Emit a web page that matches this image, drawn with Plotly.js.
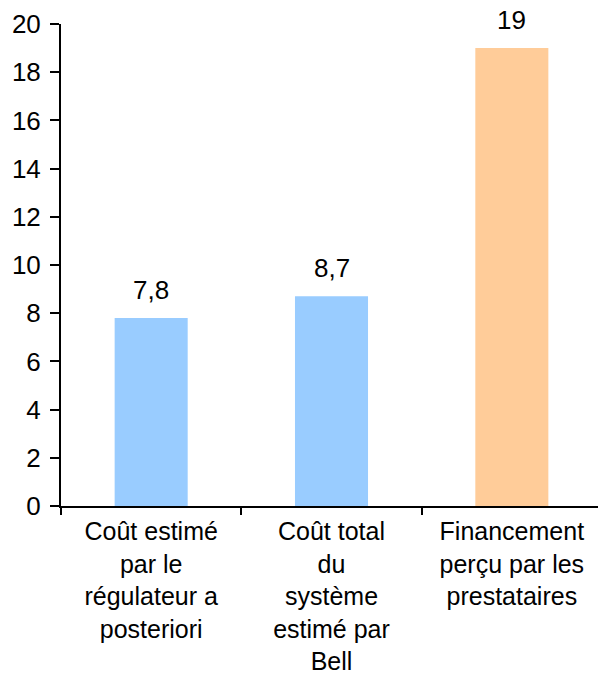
<!DOCTYPE html>
<html>
<head>
<meta charset="utf-8">
<script src="https://cdn.plot.ly/plotly-3.0.1.min.js"></script>
<style>html,body{margin:0;padding:0;background:#fff;overflow:hidden;width:598px;height:676px}</style>
</head>
<body>
<div id="chart" style="width:602px;height:676px"></div>
<script>
var categories = [
  "Coût estimé<br>par le<br>régulateur a<br>posteriori",
  "Coût total<br>du<br>système<br>estimé par<br>Bell",
  "Financement<br>perçu par les<br>prestataires"
];
var values = [7.8, 8.7, 19];
var valueLabels = ["7,8", "8,7", "19"];
var barColors = ["#99CCFF", "#99CCFF", "#FFCC99"];
var yTicks = [0, 2, 4, 6, 8, 10, 12, 14, 16, 18, 20];

var fam = "Liberation Sans, Arial, Helvetica, sans-serif";
var font = {family: fam, size: 26, color: "#000"};
var xFont = {family: fam, size: 25, color: "#000"};

var trace = {
  type: "bar",
  x: categories,
  y: values,
  marker: {color: barColors, line: {width: 0}},
  hoverinfo: "none"
};

var annotations = categories.map(function (c, i) {
  return {
    x: c, y: values[i], xref: "x", yref: "y",
    text: valueLabels[i], showarrow: false,
    yanchor: "bottom", yshift: 11,
    font: font
  };
});

var layout = {
  width: 602, height: 676,
  margin: {l: 61, r: 0, t: 24, b: 170, pad: 0},
  paper_bgcolor: "#fff", plot_bgcolor: "#fff",
  font: font,
  showlegend: false,
  bargap: 0.595,
  xaxis: {
    type: "category",
    showline: true, linecolor: "#000", linewidth: 2,
    ticks: "outside", tickson: "boundaries", ticklen: 7, tickwidth: 2, tickcolor: "#000",
    ticklabelstandoff: 2,
    showgrid: false, zeroline: false,
    tickfont: xFont,
    fixedrange: true
  },
  yaxis: {
    range: [0, 20],
    tickvals: yTicks,
    ticktext: yTicks.map(String),
    showline: true, linecolor: "#000", linewidth: 2,
    ticks: "outside", ticklen: 9, tickwidth: 2, tickcolor: "#000",
    ticklabelstandoff: 4,
    showgrid: false, zeroline: false,
    tickfont: font,
    fixedrange: true
  },
  annotations: annotations
};

Plotly.newPlot("chart", [trace], layout, {displayModeBar: false, staticPlot: true});
</script>
</body>
</html>
